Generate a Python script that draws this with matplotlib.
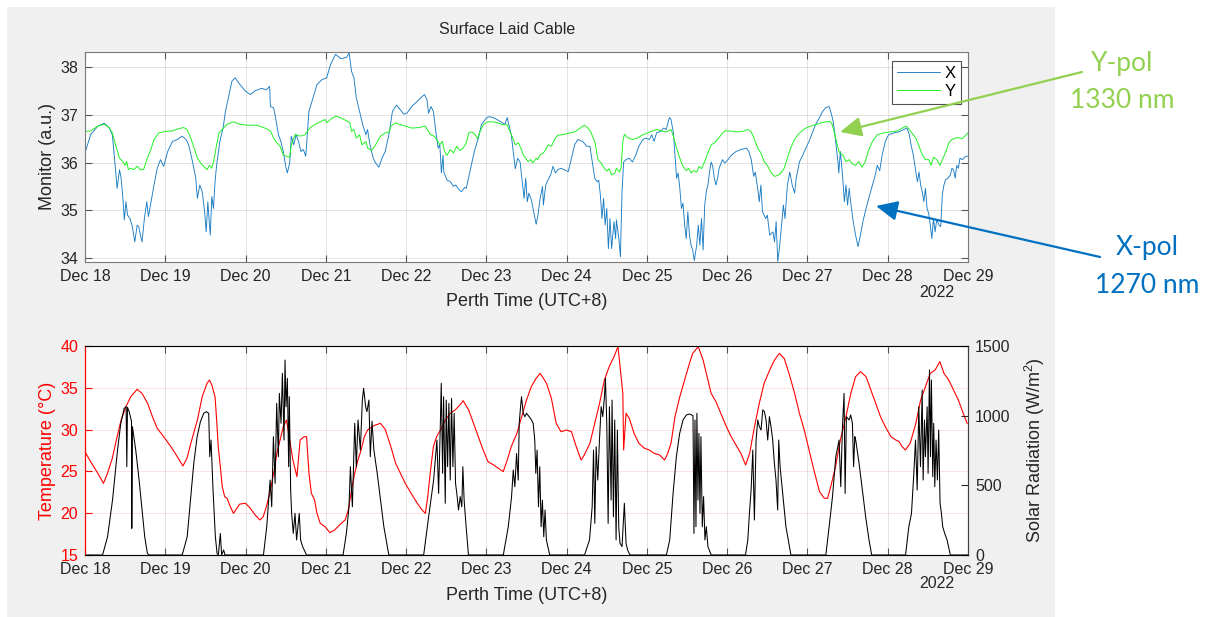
import numpy as np
import matplotlib.pyplot as plt
import matplotlib.dates as mdates
from matplotlib.patches import FancyArrowPatch, Rectangle

plt.rcParams['font.family'] = ['Liberation Sans', 'DejaVu Sans']
plt.rcParams['mathtext.default'] = 'regular'

W, H = 1213, 617
START = np.datetime64('2022-12-18T00:00')

# monitor power, X polarisation (days since Dec 18 00:00, a.u.)
x_days = [0.00, 0.07, 0.16, 0.24, 0.30, 0.34, 0.36, 0.40, 0.43, 0.45, 0.47, 0.49, 0.51, 0.53, 0.56, 0.59, 0.62, 0.65, 0.67, 0.69,
          0.71, 0.74, 0.77, 0.79, 0.82, 0.86, 0.90, 0.94, 0.98, 1.03, 1.09, 1.15, 1.21, 1.26, 1.29, 1.33, 1.38, 1.40, 1.43, 1.46,
          1.49, 1.51, 1.53, 1.56, 1.58, 1.60, 1.62, 1.64, 1.68, 1.72, 1.75, 1.79, 1.83, 1.87, 1.93, 2.00, 2.06, 2.12, 2.20, 2.26,
          2.30, 2.31, 2.35, 2.37, 2.41, 2.44, 2.47, 2.50, 2.52, 2.55, 2.57, 2.60, 2.63, 2.66, 2.69, 2.72, 2.75, 2.79, 2.84, 2.89,
          2.95, 3.01, 3.06, 3.12, 3.19, 3.26, 3.29, 3.32, 3.35, 3.38, 3.42, 3.46, 3.50, 3.52, 3.55, 3.59, 3.62, 3.66, 3.70, 3.74,
          3.79, 3.83, 3.88, 3.93, 3.97, 4.01, 4.07, 4.14, 4.20, 4.23, 4.26, 4.28, 4.31, 4.34, 4.37, 4.40, 4.42, 4.44, 4.46, 4.47,
          4.51, 4.55, 4.59, 4.62, 4.65, 4.69, 4.73, 4.75, 4.80, 4.85, 4.90, 4.94, 5.00, 5.04, 5.11, 5.17, 5.23, 5.26, 5.28, 5.31,
          5.34, 5.36, 5.39, 5.42, 5.44, 5.47, 5.49, 5.51, 5.53, 5.56, 5.59, 5.62, 5.64, 5.67, 5.70, 5.71, 5.74, 5.77, 5.80, 5.83,
          5.86, 5.89, 5.93, 5.97, 6.02, 6.06, 6.10, 6.14, 6.20, 6.25, 6.29, 6.32, 6.35, 6.38, 6.40, 6.42, 6.44, 6.46, 6.48, 6.50,
          6.52, 6.54, 6.56, 6.59, 6.61, 6.62, 6.65, 6.67, 6.69, 6.71, 6.74, 6.78, 6.82, 6.86, 6.90, 6.95, 6.99, 7.03, 7.06, 7.09,
          7.12, 7.17, 7.21, 7.24, 7.28, 7.30, 7.33, 7.35, 7.37, 7.39, 7.41, 7.43, 7.45, 7.47, 7.49, 7.51, 7.53, 7.55, 7.57, 7.59,
          7.62, 7.64, 7.66, 7.68, 7.70, 7.72, 7.74, 7.76, 7.78, 7.80, 7.82, 7.84, 7.86, 7.88, 7.90, 7.94, 7.97, 8.01, 8.05, 8.11,
          8.17, 8.24, 8.27, 8.30, 8.33, 8.35, 8.38, 8.40, 8.42, 8.44, 8.48, 8.50, 8.53, 8.57, 8.59, 8.61, 8.63, 8.65, 8.67, 8.70,
          8.72, 8.75, 8.78, 8.81, 8.84, 8.86, 8.90, 8.94, 8.98, 9.02, 9.06, 9.10, 9.15, 9.19, 9.23, 9.27, 9.30, 9.32, 9.34, 9.36,
          9.38, 9.39, 9.41, 9.44, 9.46, 9.48, 9.50, 9.52, 9.54, 9.57, 9.60, 9.63, 9.66, 9.69, 9.73, 9.77, 9.81, 9.84, 9.87, 9.90,
          9.93, 9.97, 10.01, 10.08, 10.14, 10.20, 10.24, 10.27, 10.29, 10.32, 10.35, 10.37, 10.39, 10.41, 10.43, 10.45, 10.47,
          10.49, 10.51, 10.53, 10.55, 10.57, 10.59, 10.61, 10.64, 10.66, 10.68, 10.70, 10.72, 10.75, 10.78, 10.80, 10.82, 10.84,
          10.86, 10.88, 10.90, 10.93, 10.97, 11.00]
x_vals = [36.20, 36.58, 36.76, 36.82, 36.73, 36.58, 36.23, 35.46, 35.85, 35.67, 35.29, 34.80, 35.18, 34.90, 34.83, 34.66, 34.34, 34.69, 34.66, 34.48,
          34.34, 34.83, 35.18, 34.87, 35.15, 35.53, 35.88, 36.06, 35.92, 36.23, 36.44, 36.48, 36.55, 36.48, 36.37, 36.09, 35.67, 35.25, 35.53, 35.39,
          34.97, 34.55, 35.18, 34.48, 35.29, 35.04, 35.60, 35.95, 36.44, 36.72, 37.07, 37.38, 37.70, 37.77, 37.63, 37.49, 37.42, 37.50, 37.55, 37.52,
          37.59, 37.17, 37.14, 36.97, 36.58, 36.44, 36.23, 35.92, 35.78, 35.99, 36.55, 36.37, 36.58, 36.44, 36.23, 36.27, 36.13, 37.07, 37.35, 37.63,
          37.73, 37.77, 38.05, 38.26, 38.17, 38.20, 38.29, 37.91, 37.77, 37.35, 37.07, 36.79, 36.58, 36.69, 36.37, 36.09, 35.99, 35.90, 36.09, 36.23,
          36.62, 37.07, 37.20, 37.10, 37.01, 37.03, 37.17, 37.28, 37.38, 37.42, 37.31, 37.03, 37.17, 37.07, 36.65, 36.30, 36.37, 35.78, 36.15, 35.80,
          35.63, 35.60, 35.50, 35.53, 35.45, 35.39, 35.48, 35.46, 35.85, 36.23, 36.51, 36.80, 36.93, 36.96, 36.92, 36.86, 36.80, 36.94, 36.79, 36.58,
          36.15, 35.87, 36.09, 36.01, 35.71, 35.25, 35.67, 35.18, 35.36, 35.22, 34.97, 34.71, 34.87, 35.25, 35.50, 35.11, 35.53, 35.64, 35.74, 35.92,
          35.78, 35.85, 35.88, 35.85, 35.81, 36.09, 36.37, 36.48, 36.44, 36.34, 36.34, 36.01, 35.67, 35.60, 35.63, 35.32, 34.83, 35.25, 34.69, 35.04,
          34.20, 34.83, 34.20, 34.76, 34.41, 34.80, 34.41, 34.03, 35.39, 36.01, 36.06, 36.09, 36.01, 36.15, 36.34, 36.48, 36.51, 36.48, 36.58, 36.44,
          36.62, 36.65, 36.72, 36.69, 36.94, 36.90, 36.62, 36.15, 35.67, 35.78, 35.46, 35.04, 35.15, 34.69, 34.41, 34.97, 34.48, 34.27, 34.17, 33.95,
          34.27, 34.69, 34.27, 34.83, 34.17, 35.11, 35.39, 35.53, 35.80, 36.01, 35.92, 35.67, 35.53, 35.67, 35.88, 36.06, 35.99, 36.06, 36.15, 36.23,
          36.27, 36.30, 36.23, 36.06, 35.71, 35.80, 35.46, 35.18, 35.53, 34.97, 34.83, 34.90, 34.48, 34.55, 34.34, 34.76, 33.93, 34.20, 34.55, 35.11,
          34.83, 35.53, 35.80, 35.53, 35.36, 35.67, 36.01, 36.15, 36.30, 36.44, 36.62, 36.79, 36.94, 37.07, 37.15, 37.17, 37.00, 36.86, 36.62, 36.30,
          36.01, 35.78, 36.23, 35.67, 35.18, 35.53, 35.11, 35.46, 35.15, 34.76, 34.48, 34.24, 34.48, 34.76, 35.04, 35.29, 35.53, 35.71, 35.94, 35.83,
          36.15, 36.44, 36.58, 36.62, 36.64, 36.69, 36.72, 36.58, 36.37, 36.15, 35.80, 35.60, 35.80, 35.53, 35.39, 35.18, 35.46,
          35.04, 34.94, 34.69, 34.41, 34.83, 34.55, 34.80, 34.69, 34.66, 35.32, 35.53, 35.64, 35.67, 35.74, 35.88, 35.85, 35.67,
          35.94, 35.88, 36.09, 36.06, 36.13, 36.13]

# monitor power, Y polarisation
y_days = [0.00, 0.07, 0.16, 0.24, 0.30, 0.34, 0.38, 0.43, 0.47, 0.50, 0.52, 0.54, 0.57, 0.61, 0.65, 0.69, 0.73, 0.77, 0.82, 0.86,
          0.92, 1.00, 1.09, 1.17, 1.23, 1.27, 1.31, 1.36, 1.40, 1.44, 1.49, 1.52, 1.55, 1.58, 1.61, 1.64, 1.67, 1.71, 1.77, 1.85,
          1.93, 2.02, 2.14, 2.24, 2.31, 2.35, 2.39, 2.43, 2.47, 2.51, 2.55, 2.57, 2.62, 2.68, 2.74, 2.80, 2.86, 2.93, 2.99, 3.01,
          3.07, 3.13, 3.19, 3.26, 3.30, 3.32, 3.35, 3.38, 3.42, 3.45, 3.50, 3.52, 3.57, 3.62, 3.68, 3.74, 3.79, 3.81, 3.87, 3.93,
          3.99, 4.07, 4.16, 4.24, 4.30, 4.35, 4.38, 4.42, 4.45, 4.48, 4.51, 4.55, 4.59, 4.63, 4.67, 4.71, 4.75, 4.78, 4.82, 4.86,
          4.89, 4.92, 4.96, 5.02, 5.09, 5.15, 5.21, 5.26, 5.29, 5.33, 5.36, 5.40, 5.43, 5.46, 5.49, 5.52, 5.55, 5.58, 5.62, 5.64,
          5.67, 5.71, 5.74, 5.77, 5.81, 5.86, 5.89, 5.95, 6.04, 6.10, 6.16, 6.22, 6.26, 6.30, 6.35, 6.39, 6.43, 6.47, 6.50, 6.53,
          6.56, 6.60, 6.62, 6.66, 6.68, 6.70, 6.72, 6.76, 6.82, 6.88, 6.95, 7.01, 7.07, 7.13, 7.20, 7.24, 7.30, 7.33, 7.37, 7.41,
          7.45, 7.49, 7.52, 7.55, 7.58, 7.62, 7.65, 7.68, 7.72, 7.76, 7.80, 7.84, 7.88, 7.93, 7.97, 8.03, 8.11, 8.19, 8.26, 8.30,
          8.34, 8.38, 8.42, 8.46, 8.50, 8.55, 8.59, 8.63, 8.67, 8.71, 8.75, 8.79, 8.84, 8.88, 8.93, 8.98, 9.04, 9.10, 9.17, 9.23,
          9.28, 9.31, 9.34, 9.37, 9.40, 9.44, 9.48, 9.52, 9.56, 9.60, 9.64, 9.68, 9.72, 9.76, 9.81, 9.87, 9.95, 10.04, 10.12,
          10.18, 10.23, 10.27, 10.30, 10.35, 10.39, 10.43, 10.47, 10.51, 10.54, 10.57, 10.61, 10.65, 10.70, 10.73, 10.76, 10.80,
          10.84, 10.88, 10.93, 10.97, 11.00]
y_vals = [36.65, 36.66, 36.76, 36.80, 36.73, 36.62, 36.37, 36.09, 36.02, 35.94, 36.02, 35.85, 35.88, 35.85, 35.92, 35.85, 35.85, 36.06, 36.27, 36.48,
          36.62, 36.65, 36.66, 36.71, 36.73, 36.69, 36.55, 36.30, 36.09, 35.99, 35.90, 35.85, 35.94, 35.88, 36.09, 36.37, 36.62, 36.69, 36.80, 36.85,
          36.80, 36.78, 36.78, 36.72, 36.66, 36.51, 36.41, 36.34, 36.16, 36.13, 36.11, 36.37, 36.59, 36.55, 36.58, 36.72, 36.79, 36.85, 36.90, 36.83,
          36.92, 36.97, 36.93, 36.87, 36.83, 36.65, 36.69, 36.51, 36.58, 36.37, 36.44, 36.30, 36.25, 36.37, 36.55, 36.62, 36.64, 36.76, 36.83, 36.79,
          36.76, 36.72, 36.73, 36.76, 36.59, 36.55, 36.48, 36.37, 36.44, 36.23, 36.15, 36.27, 36.20, 36.34, 36.25, 36.30, 36.41, 36.62, 36.64, 36.58,
          36.50, 36.64, 36.79, 36.85, 36.85, 36.82, 36.79, 36.79, 36.66, 36.51, 36.37, 36.41, 36.30, 36.16, 36.09, 36.02, 36.06, 35.99, 36.09, 36.06,
          36.16, 36.20, 36.27, 36.37, 36.34, 36.51, 36.57, 36.58, 36.62, 36.64, 36.71, 36.78, 36.73, 36.64, 36.44, 36.06, 35.99, 35.88, 35.82, 35.87,
          35.74, 35.78, 35.88, 35.80, 35.91, 36.44, 36.59, 36.52, 36.48, 36.51, 36.58, 36.62, 36.66, 36.69, 36.65, 36.64, 36.69, 36.55, 36.30, 36.09,
          35.92, 35.83, 35.88, 35.78, 35.83, 35.80, 35.92, 35.87, 36.02, 36.20, 36.37, 36.41, 36.48, 36.59, 36.66, 36.66, 36.64, 36.65, 36.69, 36.64,
          36.48, 36.30, 36.20, 36.02, 35.94, 35.78, 35.71, 35.73, 35.78, 35.88, 36.09, 36.30, 36.48, 36.58, 36.66, 36.72, 36.76, 36.79, 36.83, 36.85,
          36.86, 36.79, 36.59, 36.37, 36.20, 36.16, 36.02, 36.06, 35.97, 35.94, 36.02, 35.90, 36.02, 36.25, 36.44, 36.58, 36.62, 36.64, 36.66,
          36.72, 36.76, 36.69, 36.62, 36.51, 36.34, 36.16, 36.06, 36.06, 35.94, 36.11, 36.06, 35.94, 36.13, 36.25, 36.41, 36.48,
          36.51, 36.52, 36.50, 36.57, 36.62]

# air temperature (degC)
t_days = [0.00, 0.07, 0.16, 0.23, 0.28, 0.34, 0.40, 0.45, 0.51, 0.57, 0.65, 0.71, 0.78, 0.84, 0.90, 0.98, 1.07, 1.15, 1.22, 1.27,
          1.33, 1.40, 1.46, 1.52, 1.55, 1.58, 1.62, 1.64, 1.66, 1.69, 1.71, 1.74, 1.77, 1.81, 1.85, 1.89, 1.93, 2.00, 2.06, 2.12,
          2.18, 2.22, 2.26, 2.31, 2.35, 2.39, 2.43, 2.47, 2.51, 2.55, 2.59, 2.64, 2.68, 2.73, 2.76, 2.79, 2.82, 2.86, 2.89, 2.93,
          2.99, 3.05, 3.11, 3.17, 3.24, 3.28, 3.32, 3.36, 3.40, 3.44, 3.48, 3.52, 3.59, 3.62, 3.68, 3.74, 3.81, 3.87, 3.93, 3.99,
          4.05, 4.14, 4.20, 4.24, 4.27, 4.30, 4.34, 4.38, 4.43, 4.49, 4.55, 4.61, 4.67, 4.71, 4.78, 4.84, 4.90, 4.96, 5.02, 5.09,
          5.15, 5.21, 5.26, 5.31, 5.38, 5.44, 5.50, 5.56, 5.62, 5.67, 5.71, 5.75, 5.81, 5.87, 5.93, 6.00, 6.06, 6.12, 6.18, 6.22,
          6.29, 6.35, 6.41, 6.47, 6.53, 6.59, 6.64, 6.67, 6.70, 6.71, 6.74, 6.78, 6.84, 6.90, 6.97, 7.03, 7.09, 7.16, 7.22, 7.26,
          7.30, 7.35, 7.41, 7.47, 7.53, 7.57, 7.64, 7.70, 7.76, 7.80, 7.86, 7.92, 7.99, 8.05, 8.11, 8.17, 8.23, 8.28, 8.34, 8.40,
          8.46, 8.53, 8.59, 8.65, 8.71, 8.77, 8.84, 8.90, 8.96, 9.02, 9.08, 9.15, 9.21, 9.25, 9.29, 9.35, 9.41, 9.48, 9.54, 9.60,
          9.66, 9.73, 9.79, 9.85, 9.91, 9.97, 10.04, 10.10, 10.14, 10.18, 10.22, 10.28, 10.35, 10.41, 10.47, 10.53, 10.59, 10.65,
          10.70, 10.76, 10.82, 10.88, 10.94, 10.99]
t_vals = [27.36, 26.17, 24.77, 23.57, 24.77, 26.56, 29.15, 31.15, 32.74, 33.94, 34.82, 34.34, 33.14, 31.55, 30.15, 29.15, 27.96, 26.76, 25.65, 26.56,
          28.76, 31.15, 33.94, 35.53, 35.93, 35.33, 33.94, 31.15, 27.96, 25.17, 23.17, 21.97, 21.78, 20.78, 19.98, 20.58, 21.10, 21.18, 20.58, 19.78,
          19.19, 19.59, 20.78, 22.77, 24.77, 27.16, 28.76, 30.35, 31.15, 28.76, 26.36, 24.37, 28.76, 29.15, 29.15, 24.77, 22.38, 21.58, 19.98, 18.79,
          18.39, 17.67, 17.99, 18.59, 19.19, 20.38, 22.77, 24.77, 26.36, 27.56, 29.15, 29.95, 30.43, 30.55, 30.75, 30.03, 27.96, 25.96, 24.77, 23.57,
          22.58, 21.18, 20.38, 19.98, 21.97, 24.77, 27.96, 29.15, 29.95, 31.15, 31.95, 32.34, 32.94, 33.46, 32.34, 30.75, 29.15, 27.56, 26.16, 25.77,
          25.37, 24.97, 26.36, 27.96, 29.55, 31.55, 33.54, 35.14, 36.13, 36.73, 36.13, 35.53, 33.74, 30.75, 29.75, 29.95, 29.75, 27.96, 26.36, 26.96,
          28.36, 30.75, 33.14, 35.93, 37.53, 38.72, 39.92, 37.13, 34.34, 27.56, 31.95, 31.35, 29.55, 28.36, 27.76, 27.56, 27.16, 26.96, 26.36, 27.16,
          28.36, 31.55, 33.94, 35.93, 37.93, 39.12, 39.92, 38.33, 35.93, 34.34, 33.34, 31.95, 30.35, 29.15, 28.16, 27.16, 25.77, 27.16, 30.35, 33.14,
          35.53, 37.13, 38.33, 39.12, 38.52, 36.73, 34.34, 31.95, 29.95, 27.56, 25.17, 22.58, 21.78, 21.78, 23.17, 25.57, 28.76, 31.55, 34.34, 36.33,
          36.93, 36.33, 34.74, 33.14, 31.55, 30.35, 29.15, 28.76, 28.56, 27.96, 27.56, 28.36, 30.75, 33.54, 35.14, 36.73, 37.13, 38.13,
          36.73, 35.93, 34.74, 33.54, 31.95, 30.75]

# solar radiation (W/m^2)
s_days = [0.000, 0.219, 0.281, 0.343, 0.405, 0.446, 0.488, 0.512, 0.521, 0.529, 0.550, 0.579, 0.583, 0.591, 0.632, 0.674, 0.715, 0.744, 0.777, 0.798,
          1.211, 1.273, 1.314, 1.355, 1.397, 1.438, 1.479, 1.512, 1.541, 1.554, 1.570, 1.595, 1.624, 1.645, 1.661, 1.686, 1.702, 1.727, 1.744,
          2.223, 2.264, 2.306, 2.326, 2.347, 2.368, 2.388, 2.409, 2.421, 2.442, 2.459, 2.479, 2.492, 2.504, 2.521, 2.537, 2.545, 2.562, 2.574,
          2.595, 2.616, 2.636, 2.669, 2.686, 2.711, 2.760,
          3.215, 3.256, 3.289, 3.306, 3.331, 3.360, 3.380, 3.401, 3.430, 3.455, 3.471, 3.496, 3.512, 3.537, 3.554, 3.575, 3.599, 3.640, 3.682,
          3.723, 3.785,
          4.219, 4.281, 4.343, 4.384, 4.405, 4.426, 4.438, 4.455, 4.467, 4.488, 4.500, 4.517, 4.533, 4.550, 4.566, 4.583, 4.599, 4.616, 4.632,
          4.653, 4.674, 4.694, 4.707, 4.723, 4.748, 4.777,
          5.211, 5.273, 5.314, 5.335, 5.355, 5.376, 5.397, 5.409, 5.426, 5.438, 5.459, 5.479, 5.500, 5.533, 5.562, 5.583, 5.603, 5.616, 5.632,
          5.649, 5.665, 5.682, 5.698, 5.715, 5.731, 5.748, 5.789,
          6.223, 6.285, 6.318, 6.335, 6.351, 6.368, 6.388, 6.409, 6.430, 6.450, 6.471, 6.483, 6.500, 6.517, 6.533, 6.554, 6.566, 6.583, 6.599,
          6.616, 6.632, 6.649, 6.665, 6.690, 6.719, 6.740, 6.760, 6.789,
          7.243, 7.284, 7.326, 7.367, 7.408, 7.450, 7.491, 7.532, 7.574, 7.586, 7.599, 7.611, 7.623, 7.636, 7.648, 7.661, 7.673, 7.690, 7.706,
          7.723, 7.740, 7.760, 7.801,
          8.228, 8.257, 8.277, 8.298, 8.319, 8.339, 8.360, 8.381, 8.401, 8.422, 8.443, 8.464, 8.484, 8.505, 8.526, 8.546, 8.567, 8.588, 8.608,
          8.629, 8.642, 8.659, 8.691, 8.732, 8.794,
          9.229, 9.270, 9.312, 9.353, 9.394, 9.415, 9.436, 9.456, 9.469, 9.485, 9.518, 9.539, 9.560, 9.575, 9.590, 9.601, 9.643, 9.684, 9.725,
          9.767, 9.800,
          10.222, 10.263, 10.296, 10.325, 10.346, 10.367, 10.387, 10.408, 10.429, 10.441, 10.458, 10.470, 10.491, 10.503, 10.520, 10.532,
          10.544, 10.561, 10.573, 10.586, 10.602, 10.619, 10.635, 10.652, 10.669, 10.685, 10.710, 10.739, 10.780, 11.000]
s_vals = [0, 0, 131, 395, 753, 945, 1052, 1065, 634, 1060, 1029, 960, 191, 921, 753, 538, 299, 131, 12, 0,
          0, 131, 395, 658, 849, 957, 1017, 1029, 1017, 706, 825, 466, 131, 12, 0, 155, 0, 36, 0,
          0, 203, 538, 346, 849, 514, 1088, 706, 1160, 945, 1304, 825, 1399, 1064, 1268, 634, 1136, 466, 299,
          155, 299, 108, 299, 108, 60, 0,
          0, 155, 346, 634, 346, 945, 634, 969, 753, 1112, 1196, 1064, 1029, 1112, 706, 960, 753, 586, 394,
          203, 0,
          0, 275, 538, 825, 442, 921, 1232, 586, 1136, 371, 1112, 634, 1088, 538, 1124, 634, 1017, 514, 442,
          323, 419, 346, 634, 394, 203, 0,
          0, 203, 419, 610, 490, 729, 538, 945, 1064, 1136, 1017, 993, 1017, 993, 969, 945, 825, 586, 753,
          346, 634, 203, 394, 131, 323, 108, 0,
          0, 108, 346, 753, 227, 777, 538, 825, 1065, 993, 1136, 1268, 945, 227, 1064, 394, 1112, 275, 969,
          108, 897, 203, 84, 60, 371, 84, 36, 0,
          0, 108, 442, 706, 873, 969, 1005, 1012, 1000, 155, 969, 203, 1017, 394, 873, 299, 849, 203, 419,
          108, 203, 60, 0,
          0, 108, 299, 466, 753, 251, 825, 969, 921, 897, 1041, 1029, 969, 825, 993, 921, 825, 658, 538,
          323, 825, 634, 442, 203, 0,
          0, 203, 419, 706, 825, 490, 921, 1160, 442, 993, 969, 1005, 945, 634, 850, 825, 658, 466, 275,
          108, 0,
          0, 203, 299, 586, 825, 466, 1064, 634, 1184, 538, 969, 706, 1064, 586, 1328, 706,
          1256, 562, 945, 490, 825, 538, 897, 371, 299, 203, 155, 108, 0, 0]


def to_time(days):
    secs = np.round(np.asarray(days, dtype=float) * 86400).astype('int64')
    return START + secs.astype('timedelta64[s]')


def matlab_axes(ax):
    ax.set_facecolor('white')
    ax.set_axisbelow(True)
    for sp in ax.spines.values():
        sp.set_color('#7a7a7a')
        sp.set_linewidth(0.8)
    ax.tick_params(direction='in', length=5, width=0.8, color='#555555',
                   labelsize=11.5, labelcolor='#262626', top=True, pad=5)
    ax.xaxis.set_major_locator(mdates.DayLocator())
    ax.xaxis.set_major_formatter(mdates.DateFormatter('%b %d'))
    ax.set_xlim(to_time([0.0, 11.0]))
    ax.xaxis.grid(True, color='#262626', alpha=0.13, lw=0.7)


fig = plt.figure(figsize=(W / 100, H / 100), dpi=100)
fig.patch.set_facecolor('white')
fig.add_artist(Rectangle((7 / W, 0), 1048 / W, 1 - 7 / H, transform=fig.transFigure,
                         facecolor='#f0f0f0', edgecolor='none', zorder=-10))

# ---- top panel: monitor signal
ax1 = fig.add_axes([85 / W, 1 - 262 / H, 883 / W, 210 / H])
matlab_axes(ax1)
ax1.tick_params(axis='y', right=True, labelsize=11.5)
ax1.yaxis.grid(True, color='#262626', alpha=0.13, lw=0.7)
ax1.plot(to_time(x_days), x_vals, color='#1a7cc4', lw=0.65, label='X')
ax1.plot(to_time(y_days), y_vals, color='#22f022', lw=0.7, label='Y')
ax1.set_ylim(33.92, 38.31)
ax1.set_yticks([34, 35, 36, 37, 38])
ax1.set_ylabel('Monitor (a.u.)', fontsize=13, color='#262626')
ax1.yaxis.set_label_coords(-0.043, 0.5)
ax1.yaxis.label.set_va('center')
ax1.set_xlabel('Perth Time (UTC+8)', fontsize=13, color='#262626')
ax1.xaxis.set_label_coords(0.5, -40 / 210)
ax1.xaxis.label.set_va('center')
ax1.text(0.985, -31 / 210, '2022', transform=ax1.transAxes, ha='right', va='center',
         fontsize=11.5, color='#262626')
leg = ax1.legend(loc='upper right', bbox_to_anchor=((961 - 85) / 883, (262 - 61) / 210),
                 borderaxespad=0, fontsize=12, frameon=True, fancybox=False,
                 handlelength=2.6, handletextpad=0.3, borderpad=0.3, labelspacing=0.2)
leg.get_frame().set_edgecolor('#262626')
leg.get_frame().set_linewidth(0.8)

fig.text(507 / W, 1 - 29 / H, 'Surface Laid Cable', ha='center', va='center',
         fontsize=11.5, color='#262626')

# ---- bottom panel: temperature and solar radiation
ax2 = fig.add_axes([85 / W, 1 - 555 / H, 883 / W, 209 / H])
matlab_axes(ax2)
ax2.yaxis.grid(True, color='red', alpha=0.13, lw=0.7)
ax2.spines['left'].set_color('red')
ax2.tick_params(axis='y', colors='red', labelcolor='red', right=False)
ax2.plot(to_time(t_days), t_vals, color='red', lw=0.8)
ax2.set_ylim(15, 40)
ax2.set_yticks([15, 20, 25, 30, 35, 40])
ax2.set_ylabel('Temperature (°C)', fontsize=13, color='red')
ax2.yaxis.set_label_coords(-0.043, 0.5)
ax2.yaxis.label.set_va('center')
ax2.set_xlabel('Perth Time (UTC+8)', fontsize=13, color='#262626')
ax2.xaxis.set_label_coords(0.5, -40 / 209)
ax2.xaxis.label.set_va('center')
ax2.text(0.985, -29 / 209, '2022', transform=ax2.transAxes, ha='right', va='center',
         fontsize=11.5, color='#262626')

ax3 = ax2.twinx()
ax3.plot(to_time(s_days), s_vals, color='black', lw=0.75)
ax3.set_ylim(0, 1500)
ax3.set_yticks([0, 500, 1000, 1500])
ax3.spines['right'].set_color('#404040')
ax3.spines['left'].set_color('red')
ax3.tick_params(axis='y', direction='in', length=5, width=0.8, color='#262626',
                labelsize=11.5, labelcolor='#262626', pad=5)
ax3.set_ylabel('Solar Radiation (W/m$^{2}$)', fontsize=13, color='#262626')
ax3.yaxis.set_label_coords(1.076, 0.5)
ax3.yaxis.label.set_va('center')
ax3.set_xlim(to_time([0.0, 11.0]))

# ---- callouts on the right
callout_font = ['Lato', 'DejaVu Sans']
fig.text(1122 / W, 1 - 64 / H, 'Y-pol', color='#92D050', fontsize=19, ha='center', va='center',
         family=callout_font)
fig.text(1122 / W, 1 - 100 / H, '1330 nm', color='#92D050', fontsize=19, ha='center', va='center',
         family=callout_font)
fig.text(1147 / W, 1 - 248 / H, 'X-pol', color='#0070C0', fontsize=19, ha='center', va='center',
         family=callout_font)
fig.text(1147 / W, 1 - 286 / H, '1270 nm', color='#0070C0', fontsize=19, ha='center', va='center',
         family=callout_font)

for start, end, col in [((1082, 72), (840, 132), '#92D050'), ((1100, 257), (876, 206), '#0070C0')]:
    arrow = FancyArrowPatch((start[0] / W, 1 - start[1] / H), (end[0] / W, 1 - end[1] / H),
                            transform=fig.transFigure, arrowstyle='-|>,head_length=1.3,head_width=0.6',
                            mutation_scale=10, color=col, lw=1.6, shrinkA=0, shrinkB=0)
    fig.add_artist(arrow)

fig.savefig('out.png', dpi=100)
